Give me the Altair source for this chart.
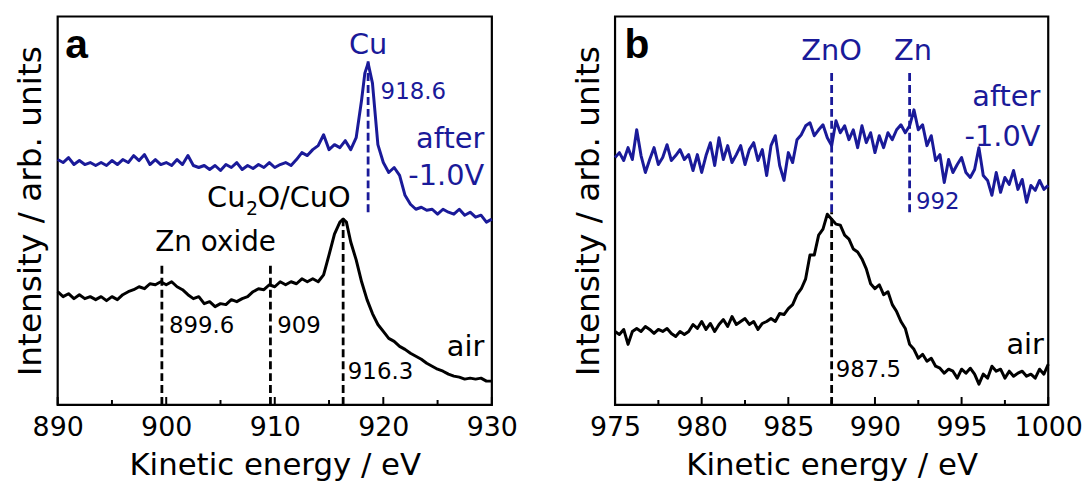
import altair as alt
import numpy as np
import pandas as pd

FONT = "DejaVu Sans"
BOLD_FONT = "Liberation Sans"
BLUE = "#1a1a99"
BLACK = "#000000"

# ---------------- panel a : Cu LMM region ----------------
a_after_x = [float(v) for v in np.arange(890.0, 917.51, 0.5)] + [918.0, 918.3, 918.6, 919.0] + \
            [float(v) for v in np.arange(919.5, 930.01, 0.5)]
a_after_y = [247, 244, 249, 242, 246, 242, 244, 241, 244, 241,
             246, 242, 247, 244, 251, 246, 252, 242, 247, 242,
             244, 241, 247, 242, 251, 241, 239, 241, 237, 241,
             236, 242, 239, 244, 237, 241, 238, 242, 239, 244,
             239, 242, 244, 241, 247, 254, 251, 257, 261, 272,
             257, 262, 259, 266, 257, 269,
             307, 334, 344, 324,
             262, 244, 234, 239, 231, 211, 202, 197, 199, 196,
             197, 192, 197, 194, 192, 197, 191, 194, 189, 191,
             184, 187]

a_air_x = [float(v) for v in np.arange(890.0, 916.01, 0.5)] + [916.3, 916.6] + \
          [float(v) for v in np.arange(917.0, 930.01, 0.5)]
a_air_y = [114, 109, 112, 107, 111, 107, 109, 106, 109, 105,
           109, 106, 111, 114, 116, 119, 117, 122, 121, 124,
           121, 124, 119, 116, 111, 107, 109, 102, 104, 99,
           102, 101, 106, 104, 107, 109, 114, 117, 116, 121,
           119, 124, 121, 124, 122, 127, 124, 127, 124, 131,
           151, 172, 184,
           187, 184,
           164, 146, 124, 106, 92, 81, 74, 67, 64, 59,
           56, 52, 49, 46, 42, 39, 36, 34, 31, 29,
           28, 26, 27, 26, 27, 24, 24]

a_major = [890, 900, 910, 920, 930]
a_minor = [895, 905, 915, 925]

# dashed markers: (x, y_from, y_to, colour)
a_marks = [(899.6, 0, 141, BLACK), (909.6, 0, 141, BLACK), (916.3, 0, 191, BLACK),
           (918.6, 194, 350, BLUE)]

# labels: (text, x, y, align, colour, size)
a_labels = [("Cu", 918.6, 353, "center", BLUE, 29),
            ("918.6", 919.75, 308, "left", BLUE, 23),
            ("after", 929.3, 259, "right", BLUE, 29),
            ("-1.0V", 929.3, 221, "right", BLUE, 29),
            ("Cu", 907.3, 199, "right", BLACK, 29),
            ("2", 907.35, 191, "left", BLACK, 19),
            ("O/CuO", 908.4, 199, "left", BLACK, 29),
            ("Zn oxide", 904.55, 155, "center", BLACK, 28),
            ("899.6", 900.25, 72, "left", BLACK, 23),
            ("909", 910.23, 72, "left", BLACK, 23),
            ("916.3", 916.73, 26, "left", BLACK, 23),
            ("air", 929.3, 49, "right", BLACK, 29)]
a_letter = ("a", 890.7, 349)

# ---------------- panel b : Zn LMM region ----------------
b_x = [round(975 + 0.25 * i, 2) for i in range(101)]
b_after_y = [249, 254, 246, 259, 247, 277, 251, 234, 247, 259,
             242, 249, 262, 246, 251, 257, 247, 252, 236, 252,
             234, 251, 264, 241, 269, 247, 261, 244, 252, 261,
             242, 257, 264, 246, 257, 231, 261, 271, 241, 226,
             254, 244, 267, 272, 281, 284, 271, 277, 282, 269,
             261, 286, 274, 281, 267, 277, 259, 281, 264, 274,
             254, 271, 259, 274, 267, 277, 282, 274, 281, 297,
             277, 282, 261, 271, 246, 252, 224, 247, 234, 242,
             249, 234, 229, 237, 259, 231, 226, 211, 234, 214,
             229, 222, 236, 217, 227, 204, 221, 216, 226, 217,
             221]
b_air_y = [74, 71, 76, 61, 74, 77, 74, 79, 76, 72,
           76, 74, 77, 72, 69, 74, 71, 74, 81, 77,
           84, 76, 82, 74, 81, 86, 79, 89, 81, 84,
           87, 81, 84, 76, 82, 84, 87, 84, 92, 91,
           97, 101, 111, 117, 127, 151, 151, 171, 177, 192,
           187, 182, 181, 171, 167, 157, 154, 147, 137, 122,
           117, 121, 111, 114, 101, 94, 84, 77, 61, 56,
           47, 51, 44, 47, 39, 37, 32, 36, 34, 27,
           36, 32, 37, 31, 21, 31, 27, 39, 34, 36,
           27, 34, 29, 32, 34, 29, 31, 27, 36, 31,
           41]

b_major = [975, 980, 985, 990, 995, 1000]
b_minor = [977.5, 982.5, 987.5, 992.5, 997.5]

b_marks = [(987.5, 194, 334, BLUE), (987.5, 0, 194, BLACK), (992.0, 194, 334, BLUE)]

b_labels = [("ZnO", 987.5, 347, "center", BLUE, 29),
            ("Zn", 992.2, 347, "center", BLUE, 29),
            ("after", 999.55, 301, "right", BLUE, 29),
            ("-1.0V", 999.55, 261, "right", BLUE, 29),
            ("992", 992.37, 197, "left", BLUE, 23),
            ("987.5", 987.73, 28, "left", BLACK, 23),
            ("air", 999.75, 51, "right", BLACK, 29)]
b_letter = ("b", 975.55, 349)

Y_DOMAIN = [0, 391]
MAJOR_LEN = 8
MINOR_LEN = 5


def xenc(dom, ticks):
    return alt.X("x:Q", scale=alt.Scale(domain=dom, nice=False, zero=False),
                 axis=alt.Axis(values=ticks, format="d", labelFont=FONT, labelFontSize=27,
                               labelColor="black", ticks=False, domain=False, grid=False,
                               labelPadding=10, labelFlush=False, labelOverlap=False,
                               title="Kinetic energy / eV", titleFont=FONT, titleFontSize=31,
                               titleFontWeight="normal", titleColor="black", titlePadding=10))


def yenc(field="y"):
    return alt.Y(f"{field}:Q", scale=alt.Scale(domain=Y_DOMAIN, nice=False, zero=False),
                 axis=alt.Axis(labels=False, ticks=False, domain=False, grid=False,
                               title="Intensity / arb. units", titleFont=FONT, titleFontSize=33,
                               titleFontWeight="normal", titleColor="black", titlePadding=10))


def panel(dom, major, minor, series, marks, labels, letter, width):
    layers = []
    for xs, ys, col in series:
        df = pd.DataFrame({"x": xs, "y": ys})
        layers.append(alt.Chart(df).mark_line(color=col, strokeWidth=3, strokeJoin="round")
                      .encode(x=xenc(dom, major), y=yenc()))
    for (mx, y0, y1, col) in marks:
        df = pd.DataFrame({"x": [mx], "y": [y0], "y2": [y1]})
        layers.append(alt.Chart(df).mark_rule(color=col, strokeWidth=2.8, strokeDash=[8, 4])
                      .encode(x=xenc(dom, major), y=yenc(), y2="y2:Q"))
    tk = pd.DataFrame({"x": list(major) + list(minor),
                       "y": [0] * (len(major) + len(minor)),
                       "y2": [MAJOR_LEN] * len(major) + [MINOR_LEN] * len(minor)})
    layers.append(alt.Chart(tk).mark_rule(color="black", strokeWidth=2)
                  .encode(x=xenc(dom, major), y=yenc(), y2="y2:Q"))
    for (t, tx, ty, al, col, sz) in labels:
        df = pd.DataFrame({"x": [tx], "y": [ty], "t": [t]})
        layers.append(alt.Chart(df).mark_text(align=al, baseline="alphabetic", font=FONT,
                                              fontSize=sz, color=col)
                      .encode(x=xenc(dom, major), y=yenc(), text="t:N"))
    lt, lx, ly = letter
    df = pd.DataFrame({"x": [lx], "y": [ly], "t": [lt]})
    layers.append(alt.Chart(df).mark_text(align="left", baseline="alphabetic", font=BOLD_FONT,
                                          fontSize=41, fontWeight="bold", color="black")
                  .encode(x=xenc(dom, major), y=yenc(), text="t:N"))
    return alt.layer(*layers).properties(width=width, height=391)


pa = panel([890, 930], a_major, a_minor,
           [(a_after_x, a_after_y, BLUE), (a_air_x, a_air_y, BLACK)],
           a_marks, a_labels, a_letter, 437)
pb = panel([975, 1000], b_major, b_minor,
           [(b_x, b_after_y, BLUE), (b_x, b_air_y, BLACK)],
           b_marks, b_labels, b_letter, 436)

chart = alt.hconcat(pa, pb, spacing=124, bounds="flush").configure(
    padding={"left": 5, "top": 5, "right": 0, "bottom": 0}
).configure_view(stroke="black", strokeWidth=2.2)

chart.save("out.html", embed_options={"renderer": "svg", "actions": False})
